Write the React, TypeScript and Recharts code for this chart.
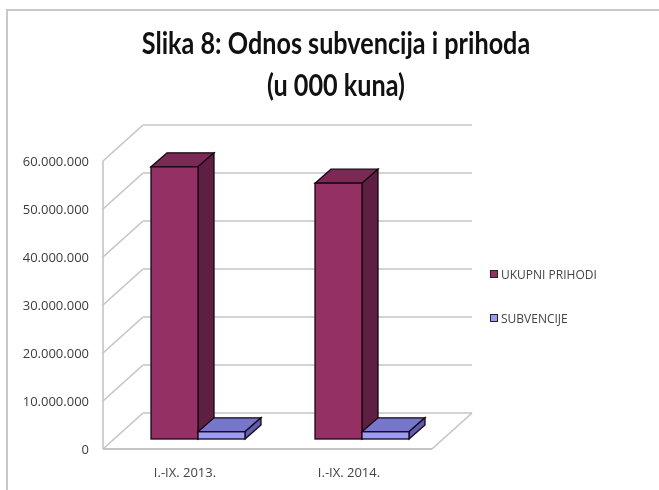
import { BarChart, Bar, XAxis, YAxis, CartesianGrid, Legend } from "recharts";

const categories = ["I.-IX. 2013.", "I.-IX. 2014."];
const ukupniPrihodi = [56700000, 53300000];
const subvencije = [1500000, 1500000];
const yTicks = [0, 10000000, 20000000, 30000000, 40000000, 50000000, 60000000];

const data = categories.map((name, i) => ({
  name,
  ukupni: ukupniPrihodi[i],
  subvencije: subvencije[i],
}));

const formatTick = (v: number) => v.toLocaleString("de-DE");

// fake 3D: how far the bars sit behind the front plane, and the back wall behind them
const DX = 16;
const DY = 14;

const Bar3D = (props: any) => {
  const { x, y, width, height, front, top, side } = props;
  const stroke = "#160711";
  return (
    <g stroke={stroke} strokeWidth={1.3}>
      <polygon points={`${x},${y} ${x + DX},${y - DY} ${x + width + DX},${y - DY} ${x + width},${y}`} fill={top} />
      <polygon
        points={`${x + width},${y} ${x + width + DX},${y - DY} ${x + width + DX},${y + height - DY} ${x + width},${y + height}`}
        fill={side}
      />
      <rect x={x} y={y} width={width} height={height} fill={front} />
    </g>
  );
};

// each tick draws the back wall line plus the slanted bit on the side wall
const WallLine = (props: any) => {
  const { x1, y1, index } = props;
  const left = x1 - 13;
  const frontY = y1 + 10;
  const backY = y1 - 26;
  const c = "#c4c4c4";
  return (
    <g key={`wall-${index}`} stroke={c} strokeWidth={1.6} fill="none">
      <line x1={left} y1={frontY} x2={left + 40} y2={backY} />
      <line x1={left + 40} y1={backY} x2={left + 369} y2={backY} />
      {y1 > 400 && <line x1={left} y1={frontY} x2={left} y2={frontY - 288} />}
      {y1 > 400 && <line x1={left} y1={frontY} x2={left + 329} y2={frontY} strokeWidth={2} />}
      {y1 > 400 && <line x1={left + 329} y1={frontY} x2={left + 369} y2={backY} />}
    </g>
  );
};

const YTick = (props: any) => (
  <text x={89} y={props.y + 10} dy={5} textAnchor="end" fontSize={13} fill="#3c3c3c" fontFamily="Open Sans">
    {formatTick(props.payload.value)}
  </text>
);

const XTick = (props: any) => (
  <text x={props.x - 13} y={477} textAnchor="middle" fontSize={13} fill="#444" fontFamily="Open Sans">
    {props.payload.value}
  </text>
);

const LegendBox = (props: any) => (
  <div style={{ fontFamily: "Open Sans", fontSize: 12, color: "#444" }}>
    {props.payload.map((p: any) => (
      <div key={p.value} style={{ display: "flex", alignItems: "center", height: 44 }}>
        <span style={{ width: 6, height: 6, background: p.color, border: "1.5px solid #222", marginRight: 3 }} />
        {p.value}
      </div>
    ))}
  </div>
);

const titleLine = {
  transform: "scaleX(0.84)",
  height: 42,
};

export default function App() {
  return (
    <div style={{ position: "absolute", left: 0, top: 0, width: 659, height: 490, background: "#fff", overflow: "hidden", filter: "blur(0.5px)" }}>
      <div style={{ position: "absolute", left: 6, top: 10, width: 2, height: 480, background: "#c8c8c8" }} />
      <div style={{ position: "absolute", left: 6, top: 9, width: 653, height: 2, background: "#c8c8c8" }} />
      <div
        style={{
          position: "absolute",
          left: 0,
          width: 672,
          top: 21,
          textAlign: "center",
          fontFamily: "Lato",
          fontWeight: 700,
          fontSize: 30,
          lineHeight: "42px",
          color: "#111",
        }}
      >
        <div style={titleLine}>Slika 8: Odnos subvencija i prihoda</div>
        <div style={titleLine}>(u 000 kuna)</div>
      </div>
      <BarChart
        width={659}
        height={490}
        data={data}
        margin={{ top: 151, right: 55, bottom: 21, left: 0 }}
        barCategoryGap={35}
        barGap={0}
        style={{ position: "absolute", left: 0, top: 0 }}
      >
        <CartesianGrid vertical={false} horizontal={WallLine} />
        <XAxis dataKey="name" axisLine={false} tickLine={false} tick={XTick} interval={0} height={30} />
        <YAxis
          width={116}
          domain={[0, 60000000]}
          ticks={yTicks}
          axisLine={false}
          tickLine={false}
          tick={YTick}
          interval={0}
        />
        <Legend
          layout="vertical"
          align="right"
          verticalAlign="top"
          content={LegendBox}
          itemSorter={null}
          width={160}
          wrapperStyle={{ left: 490, top: 252, width: 160 }}
        />
        <Bar
          dataKey="ukupni"
          name="UKUPNI PRIHODI"
          fill="#953064"
          isAnimationActive={false}
          shape={(p: any) => <Bar3D {...p} front="#953064" top="#7a2a55" side="#5f1f42" />}
        />
        <Bar
          dataKey="subvencije"
          name="SUBVENCIJE"
          fill="#9a9af0"
          isAnimationActive={false}
          shape={(p: any) => <Bar3D {...p} front="#9c9cf5" top="#7676cc" side="#5e5eb0" />}
        />
      </BarChart>
    </div>
  );
}
